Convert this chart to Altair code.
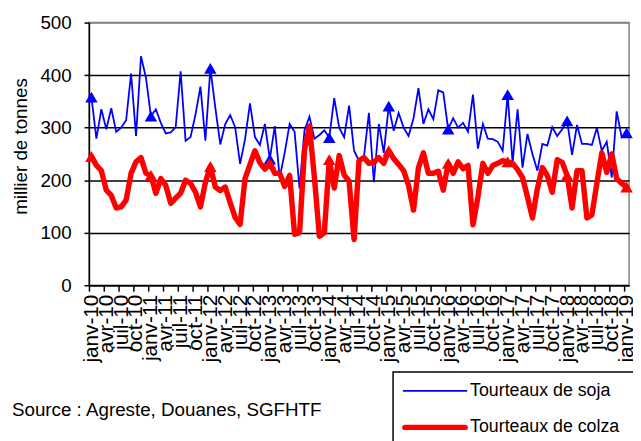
import altair as alt
import pandas as pd

years = ["10", "11", "12", "13", "14", "15", "16", "17", "18", "19"]
months = ["janv", "févr", "mars", "avr", "mai", "juin", "juil", "août", "sept", "oct", "nov", "déc"]
periods = [f"{m}-{y}" for y in years for m in months][:109]
tick_labels = periods[::3]

soja = [358, 279, 335, 297, 337, 292, 300, 314, 403, 284, 436, 395,
        322, 335, 309, 289, 291, 301, 407, 275, 282, 325, 378, 275,
        413, 338, 268, 307, 324, 301, 231, 278, 346, 282, 267, 307,
        240, 303, 205, 252, 307, 292, 184, 295, 321, 279, 286, 295,
        281, 356, 300, 282, 342, 256, 237, 245, 328, 196, 307, 252,
        341, 294, 328, 300, 284, 318, 375, 307, 335, 316, 371, 367,
        297, 318, 300, 309, 292, 363, 260, 307, 279, 278, 273, 256,
        363, 233, 335, 224, 288, 250, 218, 269, 266, 301, 284, 297,
        313, 248, 305, 269, 269, 267, 300, 256, 273, 205, 331, 282,
        290]
colza = [245, 228, 218, 181, 171, 147, 149, 162, 213, 235, 243, 213,
         209, 175, 203, 190, 156, 166, 175, 200, 194, 177, 149, 196,
         226, 187, 180, 187, 157, 129, 116, 203, 230, 256, 233, 221,
         232, 213, 213, 188, 209, 97, 100, 258, 303, 205, 93, 100,
         239, 185, 247, 210, 198, 87, 237, 243, 232, 234, 243, 232,
         256, 241, 230, 218, 190, 143, 224, 252, 213, 213, 217, 181,
         232, 213, 235, 222, 228, 115, 168, 232, 213, 228, 232, 237,
         235, 232, 220, 205, 168, 128, 184, 224, 209, 177, 239, 234,
         209, 147, 218, 218, 128, 134, 194, 252, 215, 250, 203, 194,
         187]

series_names = ["Tourteaux de soja", "Tourteaux de colza"]
source_text = "Source : Agreste, Douanes, SGFHTF"
y_title = "millier de tonnes"

rows = []
for name, vals in zip(series_names, [soja, colza]):
    for i, v in enumerate(vals):
        rows.append({"idx": i, "period": periods[i], "value": v, "series": name})
df = pd.DataFrame(rows)

label_arr = "[" + ",".join("'" + t + "'" for t in tick_labels) + "]"

x_enc = alt.X(
    "idx:Q",
    scale=alt.Scale(domain=[-0.5, 108.5], nice=False, zero=False),
    axis=alt.Axis(
        values=list(range(0, 109, 3)),
        labelExpr=label_arr + "[round(datum.value / 3)]",
        labelAngle=-90,
        labelFontSize=21,
        labelPadding=3,
        tickSize=6,
        tickOffset=-2.5,
        labelOffset=2.5,
        grid=False,
        title=None,
        labelOverlap=False,
        labelBound=False,
        labelFlush=False,
    ),
)
y_enc = alt.Y(
    "value:Q",
    scale=alt.Scale(domain=[0, 500], nice=False),
    axis=alt.Axis(
        values=[0, 100, 200, 300, 400, 500],
        title=y_title,
        titleFontSize=19,
        titleFontWeight="normal",
        titleX=-59,
        titleY=125,
        titleAngle=-90,
        labelFontSize=19,
        tickSize=5,
        labelPadding=13,
        grid=True,
        gridColor={"condition": {"test": "datum.value >= 500", "value": "#808080"}, "value": "black"},
        gridWidth=1.5,
        labelFlush=False,
    ),
)

soja_df = df[df.series == series_names[0]]
colza_df = df[df.series == series_names[1]]

blue_line = alt.Chart(soja_df).mark_line(color="#0000FF", strokeWidth=1.8).encode(x=x_enc, y=y_enc)
blue_pts = alt.Chart(soja_df[soja_df.idx % 12 == 0]).mark_point(
    shape="triangle-up", filled=True, size=160, color="#0000FF", opacity=1
).encode(x=x_enc, y=y_enc)
red_line = alt.Chart(colza_df).mark_line(
    color="#FF0000", strokeWidth=5.5, strokeJoin="round", strokeCap="round"
).encode(x=x_enc, y=y_enc)
red_pts = alt.Chart(colza_df[colza_df.idx % 12 == 0]).mark_point(
    shape="triangle-up", filled=True, size=160, color="#FF0000", opacity=1
).encode(x=x_enc, y=y_enc)

one = pd.DataFrame({"k": [0]})
leg_box = alt.Chart(one).mark_rect(fill="white", stroke="black", strokeWidth=1.5).encode(
    x=alt.value(308), x2=alt.value(700), y=alt.value(354), y2=alt.value(500)
)
leg_blue = alt.Chart(one).mark_rule(color="#0000FF", strokeWidth=1.8).encode(
    x=alt.value(318), x2=alt.value(383), y=alt.value(373)
)
leg_red = alt.Chart(one).mark_rule(color="#FF0000", strokeWidth=5.5, strokeCap="round").encode(
    x=alt.value(320), x2=alt.value(381), y=alt.value(410)
)
leg_t1 = alt.Chart(one).mark_text(
    text=series_names[0], align="left", baseline="middle", fontSize=18, font="Liberation Sans", color="black"
).encode(x=alt.value(386), y=alt.value(373))
leg_t2 = alt.Chart(one).mark_text(
    text=series_names[1], align="left", baseline="middle", fontSize=18, font="Liberation Sans", color="black"
).encode(x=alt.value(386), y=alt.value(410))
src = alt.Chart(one).mark_text(
    text=source_text, align="left", baseline="middle", fontSize=19, font="Liberation Sans", color="black"
).encode(x=alt.value(-78), y=alt.value(392))

chart = alt.layer(
    blue_line, blue_pts, red_line, red_pts, leg_box, leg_blue, leg_red, leg_t1, leg_t2, src
).properties(
    width=547,
    height=266,
    autosize=alt.AutoSizeParams(type="none"),
    padding={"left": 82, "top": 12, "right": 4, "bottom": 155},
).configure_view(
    stroke="#808080", strokeWidth=1.5
).configure_axis(
    domainColor="black",
    domainWidth=1.5,
    tickColor="black",
    tickWidth=1.5,
    labelColor="black",
    titleColor="black",
    labelFont="Liberation Sans",
    titleFont="Liberation Sans",
)

chart.save("out.html", embed_options={"renderer": "svg", "actions": False})
